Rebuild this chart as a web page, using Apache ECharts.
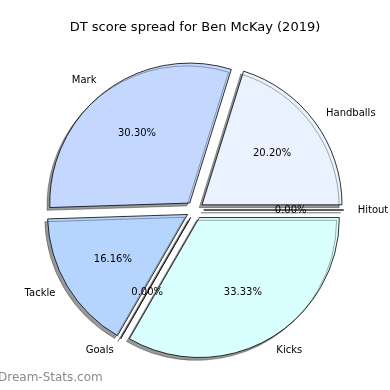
<!DOCTYPE html>
<html>
<head>
<meta charset="utf-8">
<script src="https://cdn.jsdelivr.net/npm/echarts@6/dist/echarts.min.js"></script>
<style>html,body{margin:0;padding:0;background:#fff}#c{width:390px;height:390px}</style>
</head>
<body>
<div id="c"></div>
<script>
const categories = ['Handballs', 'Mark', 'Tackle', 'Goals', 'Kicks', 'Hitout'];
const values = [20, 30, 16, 0, 33, 0];
const colors = ['#ebf2ff', '#c4d8ff', '#b5d5ff', '#b5d5ff', '#d9ffff', '#ebf2ff'];
const titleText = 'DT score spread for Ben McKay (2019)';
const watermark = 'Dream-Stats.com';

const total = values.reduce((a, b) => a + b, 0);
const R = 140, OFF = 8.7;
const font = 'DejaVu Sans';

const baseData = categories.map((c, i) => ({
  name: c, value: values[i], selected: true,
  itemStyle: { color: colors[i] }
}));
const pctData = categories.map((c, i) => ({
  name: c, value: values[i], selected: true,
  itemStyle: { color: 'rgba(0,0,0,0)', borderWidth: 0 }
}));

const chart = echarts.init(document.getElementById('c'), null, { renderer: 'canvas' });
chart.setOption({
  animation: false,
  title: {
    text: titleText, left: 'center', top: 16,
    textStyle: { fontFamily: font, fontSize: 13, fontWeight: 'normal', color: '#000' }
  },
  graphic: [{
    type: 'text', left: -2, top: 372,
    style: { text: watermark, fontFamily: font, fontSize: 12, fontWeight: 'normal', fill: '#8a8a8a' }
  }],
  series: [{
    type: 'pie', center: [195, 210], radius: [0, R],
    startAngle: 0, clockwise: false,
    selectedMode: 'multiple', selectedOffset: OFF,
    avoidLabelOverlap: false, silent: true,
    stillShowZeroSum: true, minShowLabelAngle: 0,
    itemStyle: {
      borderColor: '#000', borderWidth: 0.8,
      shadowColor: 'rgba(0,0,0,0.4)', shadowBlur: 0, shadowOffsetX: -2.8, shadowOffsetY: 2.8
    },
    select: { itemStyle: { borderColor: '#000', borderWidth: 0.8 } },
    label: {
      show: true, position: 'outside', formatter: '{b}',
      fontFamily: font, fontSize: 10, color: '#000', distanceToLabelLine: 0
    },
    labelLine: { show: false, length: 14, length2: 0 },
    emphasis: { disabled: true },
    data: baseData
  }, {
    type: 'pie', center: [195, 210], radius: [0, R * 1.2],
    startAngle: 0, clockwise: false,
    selectedMode: 'multiple', selectedOffset: OFF,
    avoidLabelOverlap: false, silent: true, minShowLabelAngle: 0,
    itemStyle: { color: 'rgba(0,0,0,0)', borderWidth: 0 },
    select: { itemStyle: { color: 'rgba(0,0,0,0)', borderWidth: 0 } },
    label: {
      show: true, position: 'inside',
      formatter: p => (p.value / total * 100).toFixed(2) + '%',
      fontFamily: font, fontSize: 10, color: '#000'
    },
    labelLine: { show: false },
    emphasis: { disabled: true },
    data: pctData
  }]
});
</script>
</body>
</html>
